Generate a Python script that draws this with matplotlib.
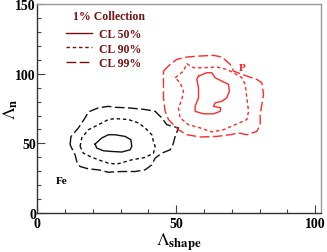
import matplotlib
matplotlib.use("Agg")
import matplotlib.pyplot as plt
from matplotlib.ticker import MultipleLocator
from matplotlib.lines import Line2D

plt.rcParams['font.family'] = ['Liberation Serif', 'DejaVu Serif']
plt.rcParams['mathtext.fontset'] = 'stix'

# Contour outlines (data coordinates)
fe50_x = [20.8, 23.2, 25.6, 28.0, 31.6, 33.7, 34.0, 33.4, 30.4, 26.8, 23.8, 21.4]
fe50_y = [49.5, 53.9, 56.2, 56.2, 55.0, 52.6, 47.8, 45.4, 43.8, 44.2, 44.7, 46.6]

fe90_x = [15.4, 16.0, 18.4, 22.0, 25.6, 28.0, 32.8, 36.4, 38.8, 41.2, 41.8, 42.4,
          41.8, 38.8, 34.0, 28.6, 25.6, 22.0, 19.0, 16.6]
fe90_y = [47.8, 53.9, 59.8, 63.4, 67.1, 67.8, 67.1, 64.7, 61.1, 56.2, 51.4, 47.8,
          43.0, 39.9, 38.2, 35.1, 35.8, 38.2, 40.6, 43.0]

fe99_x = [11.8, 12.1, 14.8, 17.2, 18.4, 22.0, 25.6, 28.0, 32.8, 38.8, 42.4, 44.8,
          46.6, 50.8, 49.6, 48.8, 47.8, 44.8, 42.4, 41.2, 38.8, 35.2, 30.4, 25.6,
          22.0, 18.4, 15.4, 14.2, 13.6, 12.4]
fe99_y = [49.0, 54.8, 61.1, 68.3, 72.6, 75.5, 76.6, 75.9, 75.5, 74.3, 73.0, 68.3,
          63.4, 61.1, 55.0, 49.0, 45.4, 43.0, 39.4, 34.6, 31.0, 29.8, 29.8, 29.3,
          31.0, 31.7, 33.4, 37.0, 41.8, 46.6]

p50_x = [58.0, 61.0, 62.8, 64.0, 66.4, 68.8, 69.1, 68.2, 66.4, 64.0, 63.4, 66.0,
         65.8, 63.4, 59.8, 56.8, 56.8, 58.0, 58.0, 57.4]
p50_y = [98.3, 100.7, 100.7, 97.1, 94.7, 92.3, 87.5, 82.7, 80.2, 79.1, 76.6, 75.5,
         73.0, 71.2, 71.2, 73.0, 76.6, 82.7, 89.9, 95.9]

p90_x = [49.6, 52.6, 53.8, 56.2, 59.8, 64.6, 68.2, 70.6, 73.6, 74.8, 75.4, 76.0,
         75.4, 71.2, 67.0, 62.8, 58.6, 54.4, 51.4, 50.8, 52.0, 52.6, 51.4]
p90_y = [97.1, 101.9, 107.2, 104.3, 104.3, 104.8, 103.1, 100.7, 97.1, 92.3, 82.7, 73.0,
         67.1, 63.4, 59.8, 58.2, 61.1, 63.4, 68.3, 75.5, 81.5, 87.5, 93.5]

p99_x = [45.4, 47.8, 50.2, 53.8, 58.6, 63.4, 66.4, 69.4, 70.6, 75.4, 79.0, 80.8,
         81.4, 80.8, 80.2, 80.2, 79.0, 75.4, 72.4, 69.4, 64.6, 58.6, 53.8, 50.8,
         49.0, 47.2, 46.0, 45.4, 45.4]
p99_y = [101.9, 106.7, 110.3, 112.0, 112.7, 113.2, 112.0, 106.7, 101.9, 98.3, 95.9, 93.5,
         85.1, 77.9, 70.7, 63.4, 58.6, 56.2, 57.5, 56.2, 55.0, 54.6, 56.2, 59.8,
         63.4, 67.1, 73.0, 82.7, 92.3]

legend_title = "1% Collection"
legend_labels = ["CL 50%", "CL 90%", "CL 99%"]

x_ticks = [0, 50, 100]
y_ticks = [0, 50, 100, 150]

dash_50 = '-'
dash_90 = (0, (2.5, 2.0))
dash_99 = (0, (7.0, 2.5))

def closed(xs, ys):
    return list(xs) + [xs[0]], list(ys) + [ys[0]]

fig = plt.figure(figsize=(3.27, 2.53), dpi=100)
ax = fig.add_axes([0.114, 0.154, 0.867, 0.826])

black = '#111111'
red = '#ff2a2a'
maroon = '#7a1010'
lw = 1.0

for xs, ys, ls in [(fe50_x, fe50_y, dash_50), (fe90_x, fe90_y, dash_90), (fe99_x, fe99_y, dash_99)]:
    cx, cy = closed(xs, ys)
    ax.plot(cx, cy, color=black, lw=lw, linestyle=ls)
for xs, ys, ls in [(p50_x, p50_y, dash_50), (p90_x, p90_y, dash_90), (p99_x, p99_y, dash_99)]:
    cx, cy = closed(xs, ys)
    ax.plot(cx, cy, color=red, lw=lw, linestyle=ls)

ax.set_xlim(0, 102)
ax.set_ylim(0, 150)
ax.xaxis.set_major_locator(plt.FixedLocator(x_ticks))
ax.yaxis.set_major_locator(plt.FixedLocator(y_ticks))
ax.xaxis.set_minor_locator(MultipleLocator(10))
ax.yaxis.set_minor_locator(MultipleLocator(10))
ax.tick_params(which='both', direction='in', top=False, right=False, colors='#444444')
ax.tick_params(which='major', length=5.5, width=0.8)
ax.tick_params(which='minor', length=2.9, width=0.8)
ax.tick_params(axis='x', pad=3)
ax.tick_params(axis='y', pad=1)
for lab in ax.get_xticklabels() + ax.get_yticklabels():
    lab.set_fontweight('bold')
    lab.set_fontsize(10)
    lab.set_color('black')

for side in ['left', 'bottom']:
    ax.spines[side].set_color('#333333')
    ax.spines[side].set_linewidth(1.0)
for side in ['top', 'right']:
    ax.spines[side].set_color('#999999')
    ax.spines[side].set_linewidth(1.0)

ax.set_xlabel(r'$\Lambda_{\mathbf{shape}}$', fontsize=13, labelpad=0)
ax.set_ylabel(r'$\Lambda_{\mathbf{n}}$', fontsize=13)
ax.yaxis.set_label_coords(-0.062, 0.5)

ax.text(73.6, 104.8, 'P', color='#ff1a1a', fontsize=8, fontweight='bold', ha='center', va='center')
ax.text(8.8, 23.1, 'Fe', color='black', fontsize=8, fontweight='bold', ha='center', va='center')

ax.text(0.253, 0.943, legend_title, transform=ax.transAxes, color=maroon,
        fontsize=8.5, fontweight='bold', ha='center', va='center')

handles = [Line2D([], [], color=maroon, lw=1.0, linestyle=ls) for ls in (dash_50, dash_90, dash_99)]
leg = ax.legend(handles, legend_labels, loc='upper left',
                bbox_to_anchor=(0.064, 0.934), frameon=False, handlelength=2.2,
                handletextpad=0.55, labelspacing=0.18,
                prop={'weight': 'bold', 'size': 8.5})
for t in leg.get_texts():
    t.set_color(maroon)

fig.savefig('out.png', dpi=100)
